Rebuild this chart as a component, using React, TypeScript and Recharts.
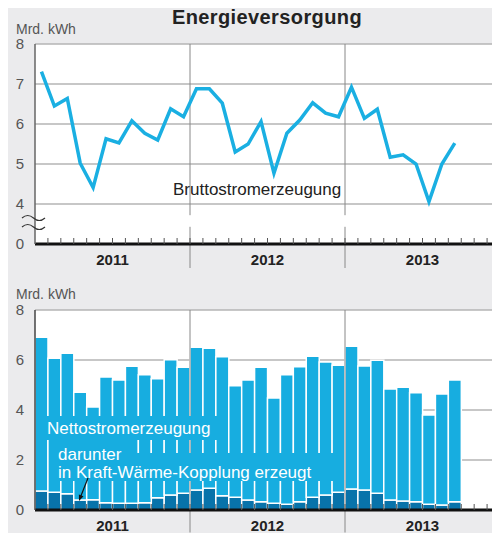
import React from 'react';
import { ComposedChart, Line, Bar, XAxis, YAxis, CartesianGrid, ReferenceLine } from 'recharts';

// months Jan 2011 .. Dec 2013
const months = [
  '01/11', '02/11', '03/11', '04/11', '05/11', '06/11', '07/11', '08/11', '09/11', '10/11', '11/11', '12/11',
  '01/12', '02/12', '03/12', '04/12', '05/12', '06/12', '07/12', '08/12', '09/12', '10/12', '11/12', '12/12',
  '01/13', '02/13', '03/13', '04/13', '05/13', '06/13', '07/13', '08/13', '09/13', '10/13', '11/13', '12/13',
];

// Bruttostromerzeugung, Mrd. kWh
const brutto = [
  7.31, 6.45, 6.64, 5.02, 4.41, 5.63, 5.53, 6.08, 5.77, 5.6, 6.38, 6.18,
  6.88, 6.88, 6.52, 5.3, 5.5, 6.06, 4.77, 5.77, 6.1, 6.53, 6.27, 6.18,
  6.92, 6.14, 6.37, 5.17, 5.23, 5.0, 4.06, 5.0, 5.52,
];

// Nettostromerzeugung, Mrd. kWh
const netto = [
  6.91, 6.07, 6.27, 4.71, 4.12, 5.32, 5.2, 5.75, 5.41, 5.25, 6.01, 5.71,
  6.51, 6.47, 6.13, 4.97, 5.2, 5.71, 4.48, 5.41, 5.73, 6.15, 5.92, 5.79,
  6.55, 5.76, 5.99, 4.84, 4.91, 4.69, 3.8, 4.64, 5.2,
];

// darunter in Kraft-Wärme-Kopplung erzeugt
const kwk = [
  0.76, 0.71, 0.65, 0.4, 0.41, 0.29, 0.27, 0.27, 0.29, 0.49, 0.6, 0.67,
  0.8, 0.87, 0.57, 0.51, 0.4, 0.33, 0.27, 0.23, 0.33, 0.51, 0.6, 0.71,
  0.84, 0.8, 0.67, 0.4, 0.36, 0.33, 0.23, 0.2, 0.33,
];

const years = ['2011', '2012', '2013'];
const yearTicks = [6, 18, 30];
const monthTicks = [1, 2, 3, 4, 5, 6, 7, 8, 9, 10, 11, 12, 13, 14, 15, 16, 17, 18, 19, 20, 21, 22, 23, 24, 25, 26, 27, 28, 29, 30, 31, 32, 33, 34, 35];
const topTicks = [3, 4, 5, 6, 7, 8];
const bottomTicks = [0, 2, 4, 6, 8];

const data = months.map((m, i) => ({
  m,
  pos: i + 0.5,
  brutto: brutto[i] ?? null,
  kwk: kwk[i] ?? null,
  rest: netto[i] != null ? +(netto[i] - kwk[i]).toFixed(2) : null,
}));

const FONT = '"Liberation Sans", Arial, Helvetica, sans-serif';
const LIGHT = '#17ade0';
const DARK = '#0873aa';
const GRID = '#b4b4b4';

const yearLabel = (v: number) => {
  const k = yearTicks.indexOf(v);
  return k >= 0 ? years[k] : '';
};

const timeAxis = (h: number) => (
  <XAxis xAxisId="y" dataKey="pos" type="number" domain={[0, 36]} allowDataOverflow ticks={monthTicks}
    tickFormatter={yearLabel} height={h} interval={0}
    axisLine={{ stroke: '#111', strokeWidth: 3 }} tickLine={{ stroke: '#555' }} tickSize={-6} tickMargin={16}
    tick={{ fill: '#222', fontSize: 15, fontWeight: 700, fontFamily: FONT }} />
);

export default function App() {
  return (
    <div style={{ position: 'relative', width: 500, height: 541, margin: -8, background: '#ebebed', fontFamily: FONT, overflow: 'hidden' }}>
      <div style={{ position: 'absolute', left: 0, top: 0 }}>
        <ComposedChart width={500} height={280} data={data} margin={{ top: 44, right: 0, bottom: 0, left: 0 }}>
          <CartesianGrid xAxisId="c" vertical={false} stroke={GRID} strokeWidth={1.5} fill="#fff" />
          {timeAxis(36)}
          <XAxis xAxisId="c" dataKey="m" scale="band" hide height={0} />
          <YAxis domain={[3, 8]} ticks={topTicks} width={35} tickLine={false} tickSize={0} tickMargin={11}
            tickFormatter={(v: number) => (v === 3 ? '0' : String(v))}
            axisLine={{ stroke: '#666', strokeWidth: 1.5 }}
            tick={{ fill: '#555', fontSize: 15, fontFamily: FONT }} />
          <ReferenceLine xAxisId="y" segment={[{ x: 12, y: 8 }, { x: 12, y: 3.72 }]} stroke="#888" ifOverflow="visible" />
          <ReferenceLine xAxisId="y" segment={[{ x: 12, y: 3.43 }, { x: 12, y: 2.4 }]} stroke="#888" ifOverflow="visible" />
          <ReferenceLine xAxisId="y" segment={[{ x: 24, y: 8 }, { x: 24, y: 3.72 }]} stroke="#888" ifOverflow="visible" />
          <ReferenceLine xAxisId="y" segment={[{ x: 24, y: 3.43 }, { x: 24, y: 2.4 }]} stroke="#888" ifOverflow="visible" />
          <Line xAxisId="c" dataKey="brutto" stroke="#1aafe2" strokeWidth={3.5} dot={false} isAnimationActive={false} />
        </ComposedChart>
      </div>

      <div style={{ position: 'absolute', left: 0, top: 280 }}>
        <ComposedChart width={500} height={261} data={data} margin={{ top: 30, right: 0, bottom: 0, left: 0 }} barCategoryGap={0}>
          <CartesianGrid xAxisId="c" vertical={false} stroke={GRID} strokeWidth={1.5} fill="#fff" />
          {timeAxis(31)}
          <XAxis xAxisId="c" dataKey="m" scale="band" hide height={0} />
          <YAxis domain={[0, 8]} ticks={bottomTicks} width={35} tickLine={false} tickSize={0} tickMargin={11}
            axisLine={{ stroke: '#444', strokeWidth: 1.5 }}
            tick={{ fill: '#555', fontSize: 15, fontFamily: FONT }} />
          <Bar xAxisId="c" dataKey="kwk" stackId="a" fill={DARK} stroke="#fff" strokeWidth={1.5} isAnimationActive={false} />
          <Bar xAxisId="c" dataKey="rest" stackId="a" fill={LIGHT} stroke="#fff" strokeWidth={1.5} isAnimationActive={false} />
          <ReferenceLine xAxisId="y" segment={[{ x: 12, y: 8 }, { x: 12, y: -0.9 }]} stroke="#888" ifOverflow="visible" />
          <ReferenceLine xAxisId="y" segment={[{ x: 24, y: 8 }, { x: 24, y: -0.9 }]} stroke="#888" ifOverflow="visible" />
        </ComposedChart>
      </div>

      <svg width={500} height={541} style={{ position: 'absolute', left: 0, top: 0, pointerEvents: 'none' }}>
        <text x={267} y={24} textAnchor="middle" fontSize={20} letterSpacing={0.4} fontWeight={700} fill="#222" fontFamily={FONT}>Energieversorgung</text>
        <text x={16} y={34} fontSize={14} fill="#555" fontFamily={FONT}>Mrd. kWh</text>
        <text x={16} y={299} fontSize={14} fill="#555" fontFamily={FONT}>Mrd. kWh</text>
        <path d="M22,218 q5.7,-5 11.5,0 t11.5,0" stroke="#333" strokeWidth={1.2} fill="none" />
        <path d="M22,227 q5.7,-5 11.5,0 t11.5,0" stroke="#333" strokeWidth={1.2} fill="none" />
        <text x={173} y={195} fontSize={17} fill="#222" fontFamily={FONT}>Bruttostromerzeugung</text>

        <rect x={40} y={416} width={187} height={24} fill={LIGHT} />
        <rect x={50} y={439} width={80} height={42} fill={LIGHT} />
        <rect x={50} y={453} width={283} height={28} fill={LIGHT} />
        <text x={47} y={434} fontSize={17} fill="#fff" fontFamily={FONT}>Nettostromerzeugung</text>
        <text x={58} y={460} fontSize={17} fill="#fff" fontFamily={FONT}>darunter</text>
        <text x={58} y={478} fontSize={17} fill="#fff" fontFamily={FONT}>in Kraft-Wärme-Kopplung erzeugt</text>
        <line x1={88} y1={478} x2={80.5} y2={497} stroke="#111" strokeWidth={1.2} />
        <polygon points="79,501 83.5,496.3 78.9,494.5" fill="#111" />
      </svg>
    </div>
  );
}
